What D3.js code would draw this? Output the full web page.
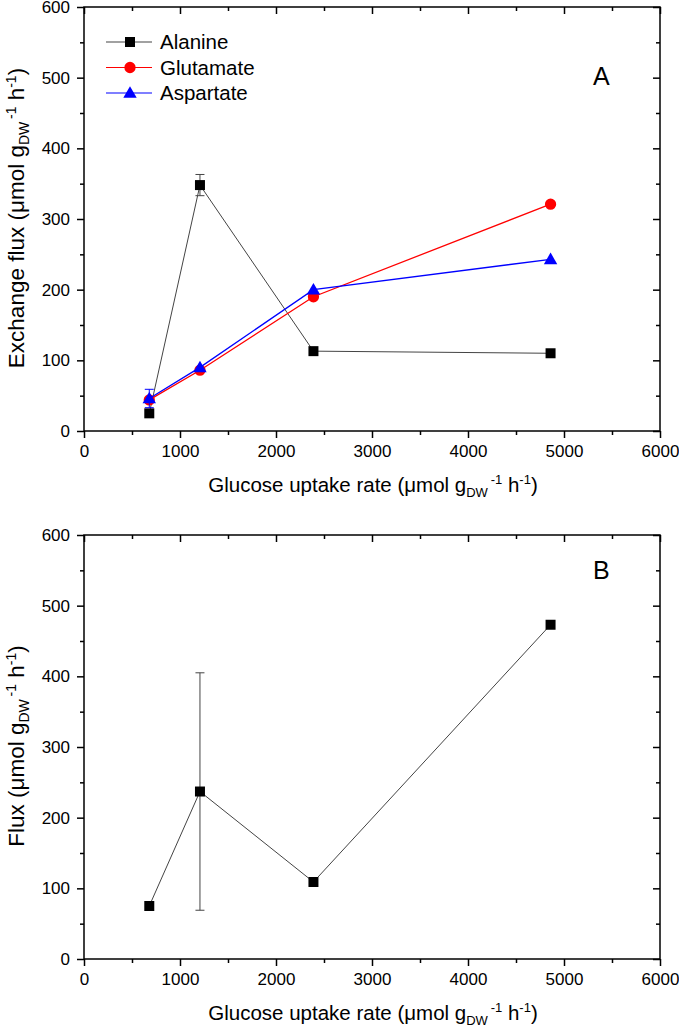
<!DOCTYPE html>
<html><head><meta charset="utf-8">
<script src="https://cdn.jsdelivr.net/npm/d3@7"></script>
<style>body{margin:0;background:#fff} text{font-family:"Liberation Sans",Arial,Helvetica,sans-serif;fill:#000}</style>
</head><body>
<svg id="c" width="679" height="1033"></svg>
<script>
// ---- data ----
const glucose = [680, 1208, 2390, 4860];
const alanine = [25, 348, 113, 110];
const alanineErr = [0, 15, 0, 0];
const glutamate = [44, 86, 190, 321];
const aspartate = [46, 90, 200, 243];
const aspartateErr = [13, 0, 0, 0];
const fluxB = [75, 237, 109, 473];
const fluxBErr = [0, 168, 0, 5];
const xMajor = [0, 1000, 2000, 3000, 4000, 5000, 6000];
const xMinor = [500, 1500, 2500, 3500, 4500, 5500];
const yMajor = [0, 100, 200, 300, 400, 500, 600];
const yMinor = [50, 150, 250, 350, 450, 550];
const seriesNames = ["Alanine", "Glutamate", "Aspartate"];

const svg = d3.select("#c");
const L = 84, R = 660;
const FONT = '"Liberation Sans",Arial,sans-serif';
const x = d3.scaleLinear().domain([0, 6000]).range([L, R]);

function panel(top, bottom, yTitle, label, labelY) {
  const y = d3.scaleLinear().domain([0, 600]).range([bottom, top]);
  const g = svg.append("g");
  g.append("rect").attr("x", L).attr("y", top).attr("width", R - L).attr("height", bottom - top)
    .attr("fill", "none").attr("stroke", "#000").attr("stroke-width", 1.5);
  const styleAx = sel => { sel.select(".domain").remove(); sel.selectAll("line").attr("stroke", "#000").attr("stroke-width", 1.5); };
  // bottom
  g.append("g").attr("transform", `translate(0,${bottom})`)
    .call(d3.axisBottom(x).tickValues(xMajor).tickSize(7).tickPadding(7).tickFormat(d3.format("d")))
    .call(styleAx)
    .call(s => s.selectAll("text").attr("font-size", 17).attr("font-family", FONT));
  g.append("g").attr("transform", `translate(0,${bottom})`)
    .call(d3.axisBottom(x).tickValues(xMinor).tickSize(4).tickFormat("")).call(styleAx);
  // top (inward)
  g.append("g").attr("transform", `translate(0,${top})`)
    .call(d3.axisBottom(x).tickValues(xMajor).tickSize(7).tickFormat("")).call(styleAx);
  g.append("g").attr("transform", `translate(0,${top})`)
    .call(d3.axisBottom(x).tickValues(xMinor).tickSize(4).tickFormat("")).call(styleAx);
  // left
  g.append("g").attr("transform", `translate(${L},0)`)
    .call(d3.axisLeft(y).tickValues(yMajor).tickSize(7).tickPadding(7).tickFormat(d3.format("d")))
    .call(styleAx)
    .call(s => s.selectAll("text").attr("font-size", 17).attr("font-family", FONT));
  g.append("g").attr("transform", `translate(${L},0)`)
    .call(d3.axisLeft(y).tickValues(yMinor).tickSize(4).tickFormat("")).call(styleAx);
  // right (inward)
  g.append("g").attr("transform", `translate(${R},0)`)
    .call(d3.axisLeft(y).tickValues(yMajor).tickSize(7).tickFormat("")).call(styleAx);
  g.append("g").attr("transform", `translate(${R},0)`)
    .call(d3.axisLeft(y).tickValues(yMinor).tickSize(4).tickFormat("")).call(styleAx);

  const xt = g.append("text").attr("x", (L + R) / 2 + 1).attr("y", bottom + 61).attr("text-anchor", "middle").attr("font-size", 20.5);
  unitText(xt, "Glucose uptake rate (\u03bcmol g", 13);
  const yt = g.append("text").attr("transform", `translate(24,${(top + bottom) / 2 - 1}) rotate(-90)`).attr("text-anchor", "middle").attr("font-size", 22.5);
  unitText(yt, yTitle + " (\u03bcmol g", 14);
  g.append("text").attr("x", 593).attr("y", labelY).attr("font-size", 25).text(label);
  return y;
}

function unitText(t, pre, small) {
  t.append("tspan").text(pre);
  t.append("tspan").attr("font-size", small).attr("dy", 5).text("DW");
  t.append("tspan").attr("font-size", small).attr("dy", -13).attr("dx", 3).text("-1");
  t.append("tspan").attr("dy", 8).text(" h");
  t.append("tspan").attr("font-size", small).attr("dy", -8).text("-1");
  t.append("tspan").attr("dy", 8).text(")");
}

const sym = {
  square: d3.symbol().type(d3.symbolSquare).size(100),
  circle: d3.symbol().type(d3.symbolCircle).size(100),
  triangle: d3.symbol().type(d3.symbolTriangle).size(78)
};

function series(y, vals, errs, color, lineColor, lw, shape) {
  const pts = glucose.map((g, i) => ({ x: g, y: vals[i], e: errs ? errs[i] : 0 }));
  svg.append("path").datum(pts)
    .attr("d", d3.line().x(d => x(d.x)).y(d => y(d.y)))
    .attr("fill", "none").attr("stroke", lineColor).attr("stroke-width", lw);
  const eb = svg.append("g").attr("stroke", lineColor).attr("stroke-width", 1);
  pts.filter(d => d.e > 0).forEach(d => {
    eb.append("line").attr("x1", x(d.x)).attr("x2", x(d.x)).attr("y1", y(d.y - d.e)).attr("y2", y(d.y + d.e));
    eb.append("line").attr("x1", x(d.x) - 4.5).attr("x2", x(d.x) + 4.5).attr("y1", y(d.y - d.e)).attr("y2", y(d.y - d.e));
    eb.append("line").attr("x1", x(d.x) - 4.5).attr("x2", x(d.x) + 4.5).attr("y1", y(d.y + d.e)).attr("y2", y(d.y + d.e));
  });
  svg.append("g").selectAll("path").data(pts).join("path")
    .attr("d", sym[shape]).attr("fill", color)
    .attr("transform", d => `translate(${x(d.x)},${y(d.y) + (shape === "triangle" ? 1 : 0)})`);
}

// Panel A
const yA = panel(7, 431, "Exchange flux", "A", 85);
series(yA, alanine, alanineErr, "#000", "#444", 1, "square");
series(yA, glutamate, null, "#ff0000", "#ff0000", 1.3, "circle");
series(yA, aspartate, aspartateErr, "#0000ff", "#0000ff", 1.3, "triangle");

// legend
const legColors = [["#000", "#444", "square"], ["#ff0000", "#ff0000", "circle"], ["#0000ff", "#0000ff", "triangle"]];
seriesNames.forEach((n, i) => {
  const ly = 42 + i * 25.5;
  const c = legColors[i];
  svg.append("line").attr("x1", 106).attr("x2", 152).attr("y1", ly).attr("y2", ly).attr("stroke", c[1]).attr("stroke-width", 1.2);
  svg.append("path").attr("d", sym[c[2]]).attr("fill", c[0]).attr("transform", `translate(130,${ly + (c[2] === "triangle" ? 1 : 0)})`);
  svg.append("text").attr("x", 160).attr("y", ly + 7).attr("font-size", 20.5).text(n);
});

// Panel B
const yB = panel(535, 959, "Flux", "B", 579);
series(yB, fluxB, fluxBErr, "#000", "#444", 1, "square");
</script>
</body></html>
